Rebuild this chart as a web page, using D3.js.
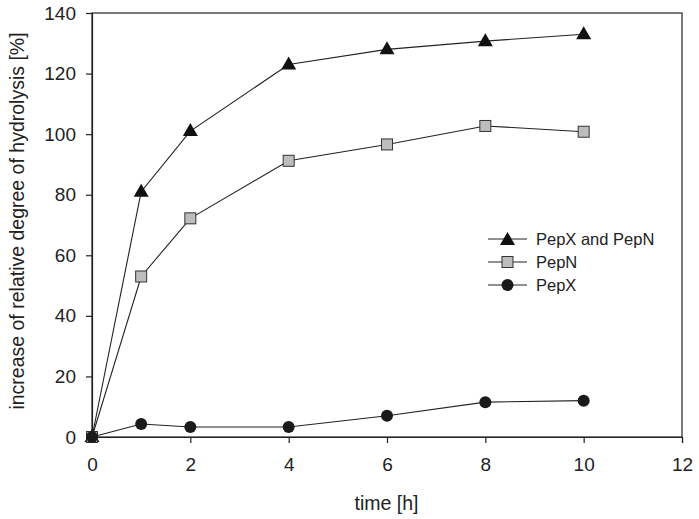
<!DOCTYPE html>
<html><head><meta charset="utf-8">
<script src="https://cdn.jsdelivr.net/npm/d3@7"></script>
<style>body{margin:0;background:#fff;} text{font-family:"Liberation Sans",Arial,Helvetica,sans-serif;fill:#222;}</style>
</head><body><svg id="c" width="699" height="519"></svg>
<script>
const times = [0, 1, 2, 4, 6, 8, 10];
const pepXandN = [0, 81, 101, 123, 128, 130.7, 133];
const pepN = [0, 53, 72.2, 91.2, 96.6, 102.7, 100.8];
const pepX = [0, 4.3, 3.3, 3.3, 7, 11.5, 12];
const xTicks = [0, 2, 4, 6, 8, 10, 12];
const yTicks = [0, 20, 40, 60, 80, 100, 120, 140];
const seriesNames = ["PepX and PepN", "PepN", "PepX"];

const svg = d3.select("#c");
const x = d3.scaleLinear().domain([0, 12]).range([92, 682]);
const y = d3.scaleLinear().domain([0, 140]).range([437, 13]);

// frame
svg.append("rect").attr("x", 92).attr("y", 13).attr("width", 590).attr("height", 424)
  .attr("fill", "none").attr("stroke", "#222").attr("stroke-width", 1.2);

const xAxis = svg.append("g").attr("transform", "translate(0,437)")
  .call(d3.axisBottom(x).tickValues(xTicks).tickSize(6).tickPadding(15).tickFormat(d3.format("d")));
const yAxis = svg.append("g").attr("transform", "translate(92,0)")
  .call(d3.axisLeft(y).tickValues(yTicks).tickSize(6).tickPadding(10).tickFormat(d3.format("d")));
[xAxis, yAxis].forEach(a => {
  a.select(".domain").attr("stroke", "#222").attr("stroke-width", 1.2);
  a.selectAll(".tick line").attr("stroke", "#222").attr("stroke-width", 1.2);
  a.selectAll(".tick text").attr("font-size", 19).style("font-family", '"Liberation Sans",Arial,sans-serif').attr("fill", "#222");
});

svg.append("text").attr("x", 386.5).attr("y", 510).attr("text-anchor", "middle").attr("font-size", 19.5).text("time [h]");
svg.append("text").attr("transform", "translate(24,221) rotate(-90)").attr("text-anchor", "middle")
  .attr("font-size", 19.5).text("increase of relative degree of hydrolysis [%]");

const line = d3.line().x((d, i) => x(times[i])).y(d => y(d));
const data = [pepXandN, pepN, pepX];
const kinds = ["tri", "sq", "circ"];

function marker(g, kind, cx, cy) {
  if (kind === "tri") {
    g.append("path").attr("d", `M${cx},${cy-8}L${cx+7.5},${cy+5}L${cx-7.5},${cy+5}Z`).attr("fill", "#111");
  } else if (kind === "sq") {
    g.append("rect").attr("x", cx-5.5).attr("y", cy-5.5).attr("width", 11).attr("height", 11)
      .attr("fill", "#bdbdbd").attr("stroke", "#333").attr("stroke-width", 1);
  } else {
    g.append("circle").attr("cx", cx).attr("cy", cy).attr("r", 6).attr("fill", "#1a1a1a");
  }
}

data.forEach((vals, k) => {
  svg.append("path").datum(vals).attr("d", line).attr("fill", "none").attr("stroke", "#222").attr("stroke-width", 1.1);
});
data.forEach((vals, k) => {
  const g = svg.append("g");
  vals.forEach((v, i) => marker(g, kinds[k], x(times[i]), y(v)));
});

// legend
const ly = [239, 262, 285];
seriesNames.forEach((n, k) => {
  const g = svg.append("g");
  g.append("line").attr("x1", 488).attr("x2", 527).attr("y1", ly[k]).attr("y2", ly[k]).attr("stroke", "#222").attr("stroke-width", 1.1);
  marker(g, kinds[k], 507.5, ly[k] + (kinds[k] === "tri" ? 1 : 0));
  g.append("text").attr("x", 536).attr("y", ly[k] + 6).attr("font-size", 16.5).text(n);
});
</script></body></html>
